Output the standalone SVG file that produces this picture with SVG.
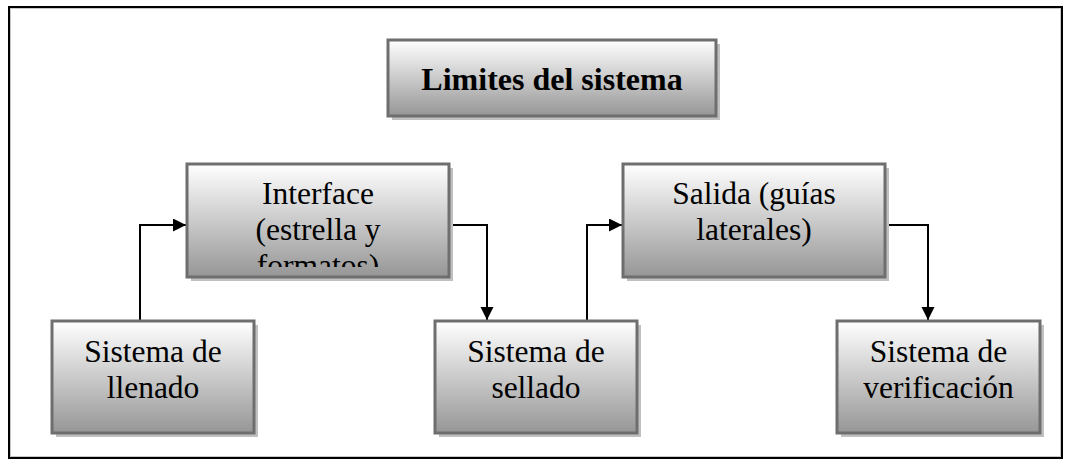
<svg xmlns="http://www.w3.org/2000/svg" width="1071" height="470" viewBox="0 0 1071 470">
<defs>
<linearGradient id="g" x1="0" y1="0" x2="0" y2="1">
<stop offset="0" stop-color="#ffffff"/>
<stop offset="1" stop-color="#969696"/>
</linearGradient>
<marker id="ah" markerWidth="14" markerHeight="14" refX="13" refY="6.5" orient="auto" markerUnits="userSpaceOnUse">
<path d="M0,0 L13,6.5 L0,13 Z" fill="#000"/>
</marker>
<clipPath id="clipInt"><rect x="188" y="165" width="260" height="102"/></clipPath>
</defs>
<style>
.sh{fill:#c0c0c0}
.bx{fill:url(#g);stroke:#6e6e6e;stroke-width:3}
.t{font-family:"Liberation Serif","Times New Roman",serif;font-size:31.5px;fill:#000;text-anchor:middle}
.tb{font-weight:bold;font-size:32px}
.c{fill:none;stroke:#000;stroke-width:2}
</style>
<rect x="0" y="0" width="1071" height="470" fill="#fff"/>
<rect x="9" y="7" width="1053" height="451" fill="none" stroke="#000" stroke-width="2"/>
<rect x="10.5" y="8.5" width="1050" height="448" fill="none" stroke="#c8c8c8" stroke-width="1"/>

<g id="connectors">
<path class="c" d="M140,321 V225 H186" marker-end="url(#ah)"/>
<path class="c" d="M449,225 H487 V320" marker-end="url(#ah)"/>
<path class="c" d="M587,321 V225 H622" marker-end="url(#ah)"/>
<path class="c" d="M885,225 H928 V320" marker-end="url(#ah)"/>
</g>

<g id="title">
<rect class="sh" x="392" y="44" width="328" height="76"/>
<rect class="bx" x="388" y="40" width="328" height="76"/>
<text class="t tb" x="552" y="90">Limites del sistema</text>
</g>

<g id="interface">
<rect class="sh" x="191" y="168" width="262" height="113"/>
<rect class="bx" x="187" y="164" width="262" height="113"/>
<g clip-path="url(#clipInt)">
<text class="t" x="318" y="204">Interface</text>
<text class="t" x="318" y="240">(estrella y</text>
<text class="t" x="318" y="276">formatos)</text>
</g>
</g>

<g id="salida">
<rect class="sh" x="627" y="168" width="262" height="113"/>
<rect class="bx" x="623" y="164" width="262" height="113"/>
<text class="t" x="754" y="204">Salida (guías</text>
<text class="t" x="754" y="240">laterales)</text>
</g>

<g id="llenado">
<rect class="sh" x="56" y="325" width="202" height="112"/>
<rect class="bx" x="52" y="321" width="202" height="112"/>
<text class="t" x="153" y="362">Sistema de</text>
<text class="t" x="153" y="398">llenado</text>
</g>

<g id="sellado">
<rect class="sh" x="439" y="325" width="202" height="112"/>
<rect class="bx" x="435" y="321" width="202" height="112"/>
<text class="t" x="536" y="362">Sistema de</text>
<text class="t" x="536" y="398">sellado</text>
</g>

<g id="verificacion">
<rect class="sh" x="841" y="325" width="203" height="112"/>
<rect class="bx" x="837" y="321" width="203" height="112"/>
<text class="t" x="938.5" y="362">Sistema de</text>
<text class="t" x="938.5" y="398">verificación</text>
</g>
</svg>
